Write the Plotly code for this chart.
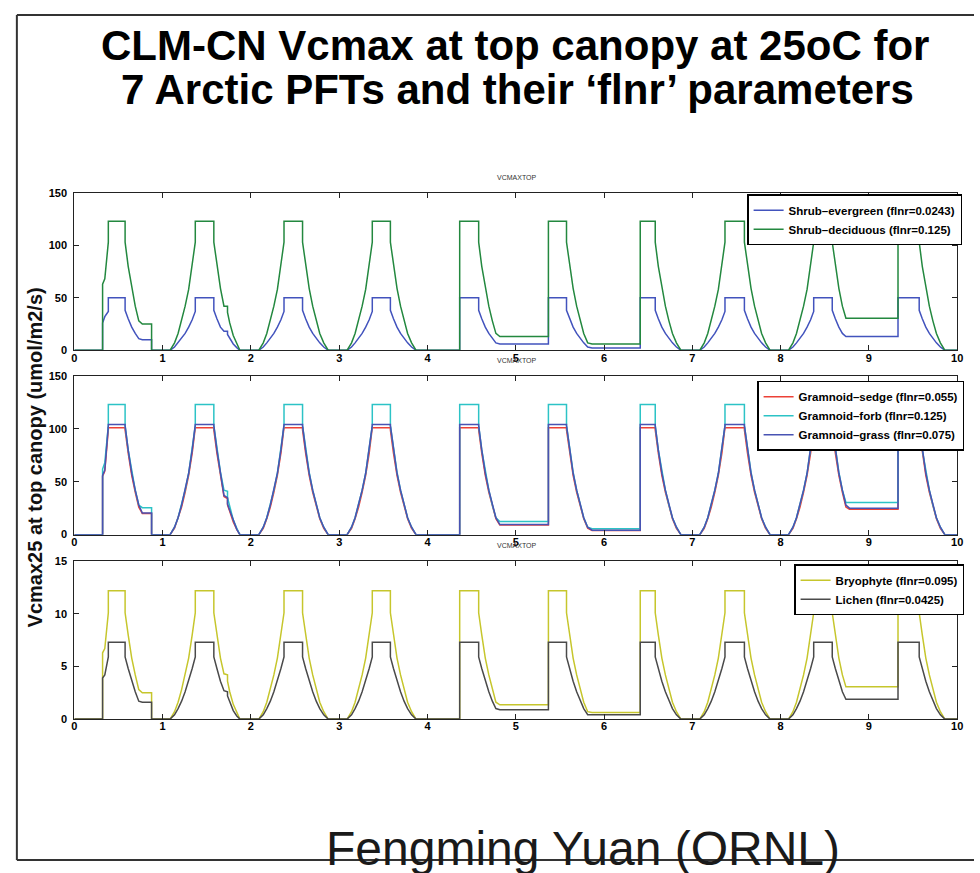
import plotly.graph_objects as go

# ---------------- data ----------------
N_YEARS = 10
X_TICKS = list(range(0, 11))
Y_TICKS_TOP = [0, 50, 100, 150]
Y_TICKS_BOTTOM = [0, 5, 10, 15]

# phenology timing of each year (model years, x axis)
ONSET_X = [0.32, 1.085, 2.09, 3.09, 4.365, 5.37, 6.41, 7.085, 8.09, 9.33]
ONSET_KIND = ["ramp", "rise", "rise", "rise", "jump", "jump", "jump", "rise", "rise", "jump"]
PLAT_END_X = [0.575, 1.58, 2.585, 3.58, 4.58, 5.575, 6.58, 7.59, 8.585, 9.57]
HOLD_END_X = [0.875, None, None, None, None, None, None, None, None, None]

# x offsets of the read points on the rising / falling limbs
RISE_DX = [0.0, 0.05, 0.09, 0.13, 0.17, 0.21, 0.25, 0.285, 0.285]
DECL_DX = [0.0, 0.0, 0.035, 0.075, 0.115, 0.155, 0.195, 0.24, 0.29]
DECL1_DX = [0.0, 0.0, 0.035, 0.075, 0.115, 0.155, 0.155, 0.18, 0.22, 0.26, 0.295]
ONSET0_DX = [0.0, 0.0, 0.025, 0.065, 0.065]

# --- panel 1 : shrubs
EVG_NAME = "Shrub–evergreen (flnr=0.0243)"
EVG_RISE = [0, 3, 7, 11, 16, 22, 29, 37, 50]
EVG_DECL = [50, 38, 30, 22, 16, 11, 7, 3, 0]
EVG_DECL1 = [50, 38, 30, 22, 18, 18, 15, 11, 6, 2.5, 0]
EVG_ONSET0 = [0, 26, 32, 37, 50]
EVG_BASE = [10, 0, 0, 0, 6, 2.2, 0, 0, 13, 0]

DEC_NAME = "Shrub–deciduous (flnr=0.125)"
DEC_RISE = [0, 7, 16, 28, 42, 58, 80, 103, 123]
DEC_DECL = [123, 103, 80, 59, 42, 28, 16, 7, 0]
DEC_DECL1 = [123, 103, 80, 59, 42, 42, 36, 26, 14, 6, 0]
DEC_ONSET0 = [0, 63, 68, 103, 123]
DEC_BASE = [25, 0, 0, 0, 13, 6, 0, 0, 30.5, 0]

# --- panel 2 : graminoids
SED_NAME = "Gramnoid–sedge (flnr=0.055)"
SED_RISE = [0, 6, 15, 26, 40, 56, 77, 99, 101]
SED_DECL = [101, 99, 77, 56, 40, 26, 15, 6, 0]
SED_DECL1 = [101, 99, 77, 56, 36, 34, 28, 22, 12, 5, 0]
SED_ONSET0 = [0, 55, 60, 99, 101]
SED_BASE = [20, 0, 0, 0, 9, 3.8, 0, 0, 24, 0]

FRB_NAME = "Gramnoid–forb (flnr=0.125)"
FRB_RISE = [0, 7, 16, 28, 42, 58, 80, 103, 123]
FRB_DECL = [123, 103, 80, 59, 42, 28, 16, 7, 0]
FRB_DECL1 = [123, 103, 80, 59, 42, 41, 35, 26, 14, 6, 0]
FRB_ONSET0 = [0, 62, 68, 103, 123]
FRB_BASE = [25.5, 0, 0, 0, 12.4, 5.6, 0, 0, 30.4, 0]

GRS_NAME = "Gramnoid–grass (flnr=0.075)"
GRS_RISE = [0, 7, 16, 28, 42, 58, 80, 103, 104]
GRS_DECL = [104, 103, 80, 58, 42, 28, 16, 7, 0]
GRS_DECL1 = [104, 103, 80, 58, 37, 35, 29, 23, 13, 5, 0]
GRS_ONSET0 = [0, 56, 61, 103, 104]
GRS_BASE = [20.5, 0, 0, 0, 9.5, 4.2, 0, 0, 25, 0]

# --- panel 3 : non-vascular
BRY_NAME = "Bryophyte (flnr=0.095)"
BRY_RISE = [0, 0.7, 1.6, 2.8, 4.2, 5.8, 8.0, 10.1, 12.2]
BRY_DECL = [12.2, 10.1, 8.0, 5.8, 4.2, 2.8, 1.6, 0.7, 0]
BRY_DECL1 = [12.2, 10.1, 8.0, 5.8, 4.3, 4.2, 3.6, 2.6, 1.4, 0.6, 0]
BRY_ONSET0 = [0, 6.3, 6.7, 10.1, 12.2]
BRY_BASE = [2.5, 0, 0, 0, 1.35, 0.63, 0, 0, 3.06, 0]

LCH_NAME = "Lichen (flnr=0.0425)"
LCH_RISE = [0, 0.4, 1.0, 1.7, 2.6, 3.6, 4.8, 5.9, 7.3]
LCH_DECL = [7.3, 5.9, 4.8, 3.6, 2.6, 1.7, 1.0, 0.4, 0]
LCH_DECL1 = [7.3, 5.9, 4.8, 3.6, 2.7, 2.6, 2.2, 1.6, 0.8, 0.3, 0]
LCH_ONSET0 = [0, 3.9, 4.2, 5.9, 7.3]
LCH_BASE = [1.6, 0, 0, 0, 0.88, 0.41, 0, 0, 1.88, 0]


def build_series(rise, decl, decl1, onset0, base):
    """Chain the read points of every season into one polyline."""
    plateau = decl[0]
    xs, ys = [0.0], [0.0]
    level = 0.0
    for k in range(N_YEARS):
        x0 = ONSET_X[k]
        xs.append(x0)
        ys.append(level)
        kind = ONSET_KIND[k]
        if kind == "ramp":
            for dx, v in zip(ONSET0_DX, onset0):
                xs.append(x0 + dx)
                ys.append(v)
        elif kind == "rise":
            for dx, v in zip(RISE_DX, rise):
                xs.append(x0 + dx)
                ys.append(v)
        else:
            xs.append(x0)
            ys.append(plateau)
        xe = PLAT_END_X[k]
        dxs, vals = (DECL1_DX, decl1) if k == 1 else (DECL_DX, decl)
        b = base[k]
        for dx, v in zip(dxs, vals):
            if v < b:
                xs.append(xe + dx)
                ys.append(b)
                break
            xs.append(xe + dx)
            ys.append(v)
        level = b
        if HOLD_END_X[k] is not None:
            xs += [HOLD_END_X[k], HOLD_END_X[k]]
            ys += [b, 0.0]
            level = 0.0
    xs.append(10.0)
    ys.append(level)
    return xs, ys


PANELS = [
    [(EVG_NAME, EVG_RISE, EVG_DECL, EVG_DECL1, EVG_ONSET0, EVG_BASE, "#4253bd"),
     (DEC_NAME, DEC_RISE, DEC_DECL, DEC_DECL1, DEC_ONSET0, DEC_BASE, "#23883f")],
    [(SED_NAME, SED_RISE, SED_DECL, SED_DECL1, SED_ONSET0, SED_BASE, "#ec4137"),
     (FRB_NAME, FRB_RISE, FRB_DECL, FRB_DECL1, FRB_ONSET0, FRB_BASE, "#2cc3c6"),
     (GRS_NAME, GRS_RISE, GRS_DECL, GRS_DECL1, GRS_ONSET0, GRS_BASE, "#4853b3")],
    [(BRY_NAME, BRY_RISE, BRY_DECL, BRY_DECL1, BRY_ONSET0, BRY_BASE, "#c6c62c"),
     (LCH_NAME, LCH_RISE, LCH_DECL, LCH_DECL1, LCH_ONSET0, LCH_BASE, "#4a4a4a")],
]

# ---------------- layout geometry (pixels of the 980x873 page) ----------------
W, H = 980, 873
PLOT_L, PLOT_R = 72, 963
PANEL_TOP = [189.5, 375, 563]
PANEL_BOT = [349, 536, 723]
LEG_RIGHT = [968, 970, 970]
LEG_TOP = [191, 380, 566]

FONT = "Liberation Sans, Arial, sans-serif"

fig = go.Figure()
for p, series in enumerate(PANELS):
    sfx = "" if p == 0 else str(p + 1)
    for name, rise, decl, decl1, onset0, base, color in series:
        xs, ys = build_series(rise, decl, decl1, onset0, base)
        fig.add_trace(go.Scatter(
            x=xs, y=ys, mode="lines", name=name,
            line=dict(color=color, width=1.5),
            xaxis="x" + sfx, yaxis="y" + sfx,
            legend="legend" + sfx,
            hoverinfo="skip",
        ))

layout = dict(
    width=W, height=H,
    margin=dict(l=0, r=0, t=0, b=0),
    paper_bgcolor="white", plot_bgcolor="white",
    showlegend=True,
    font=dict(family=FONT, color="black"),
)

tickfont = dict(family=FONT, size=11, color="black", weight="bold")
for p in range(3):
    sfx = "" if p == 0 else str(p + 1)
    yd = [1 - PANEL_BOT[p] / H, 1 - PANEL_TOP[p] / H]
    layout["xaxis" + sfx] = dict(
        domain=[PLOT_L / W, PLOT_R / W], range=[0, 10],
        tickmode="array", tickvals=X_TICKS, ticktext=[str(t) for t in X_TICKS],
        ticks="inside", ticklen=5, tickwidth=1.2, tickcolor="#222",
        showline=True, linecolor="#222", linewidth=1.2, mirror="ticks",
        showgrid=False, zeroline=False, tickfont=tickfont,
        ticklabelstandoff=-3,
        anchor="y" + sfx, fixedrange=True,
    )
    yt = Y_TICKS_TOP if p < 2 else Y_TICKS_BOTTOM
    layout["yaxis" + sfx] = dict(
        domain=yd, range=[yt[0], yt[-1]],
        tickmode="array", tickvals=yt, ticktext=[str(t) for t in yt],
        ticks="inside", ticklen=5, tickwidth=1.2, tickcolor="#222",
        showline=True, linecolor="#222", linewidth=1.2, mirror="ticks",
        showgrid=False, zeroline=False, tickfont=tickfont,
        ticklabelstandoff=4,
        anchor="x" + sfx, fixedrange=True,
    )
    layout["legend" + sfx] = dict(
        x=LEG_RIGHT[p] / W, xanchor="right",
        y=1 - LEG_TOP[p] / H, yanchor="top",
        bgcolor="white", bordercolor="black", borderwidth=1.5,
        font=dict(family=FONT, size=11.5, color="black", weight="bold"),
        tracegroupgap=0, itemwidth=30,
    )

fig.update_layout(**layout)

annotations = []
# small MATLAB panel titles
for p in range(3):
    annotations.append(dict(
        text="VCMAXTOP", x=518 / W, y=1 - (PANEL_TOP[p] - 16) / H,
        xref="paper", yref="paper", showarrow=False,
        font=dict(family=FONT, size=7, color="#333"),
        xanchor="center", yanchor="middle",
    ))
# slide title
annotations.append(dict(
    text="CLM-CN Vcmax at top canopy at 25oC for", x=517 / W, y=1 - 40 / H,
    xref="paper", yref="paper", showarrow=False,
    font=dict(family=FONT, size=42, color="black", weight="bold"),
    xanchor="center", yanchor="middle",
))
annotations.append(dict(
    text="7 Arctic PFTs and their ‘flnr’ parameters", x=519 / W, y=1 - 85 / H,
    xref="paper", yref="paper", showarrow=False,
    font=dict(family=FONT, size=42, color="black", weight="bold"),
    xanchor="center", yanchor="middle",
))
# shared y-axis title
annotations.append(dict(
    text="Vcmax25 at top canopy (umol/m2/s)", x=32 / W, y=1 - 458 / H,
    xref="paper", yref="paper", showarrow=False, textangle=-90,
    font=dict(family=FONT, size=20, color="#111", weight="bold"),
    xanchor="center", yanchor="middle",
))
# author footer
annotations.append(dict(
    text="Fengming Yuan (ORNL)", x=585 / W, y=1 - 854 / H,
    xref="paper", yref="paper", showarrow=False,
    font=dict(family=FONT, size=48, color="#1a1a1a"),
    xanchor="center", yanchor="middle",
))
fig.update_layout(annotations=annotations)

# slide frame
frame = dict(color="#333", width=2)
fig.update_layout(shapes=[
    dict(type="line", xref="paper", yref="paper", x0=14 / W, x1=1.0,
         y0=1 - 9 / H, y1=1 - 9 / H, line=frame),
    dict(type="line", xref="paper", yref="paper", x0=14 / W, x1=14 / W,
         y0=1 - 9 / H, y1=1 - 866 / H, line=frame),
    dict(type="line", xref="paper", yref="paper", x0=14 / W, x1=1.0,
         y0=1 - 866 / H, y1=1 - 866 / H, line=frame),
])

fig.write_html("out.html")
